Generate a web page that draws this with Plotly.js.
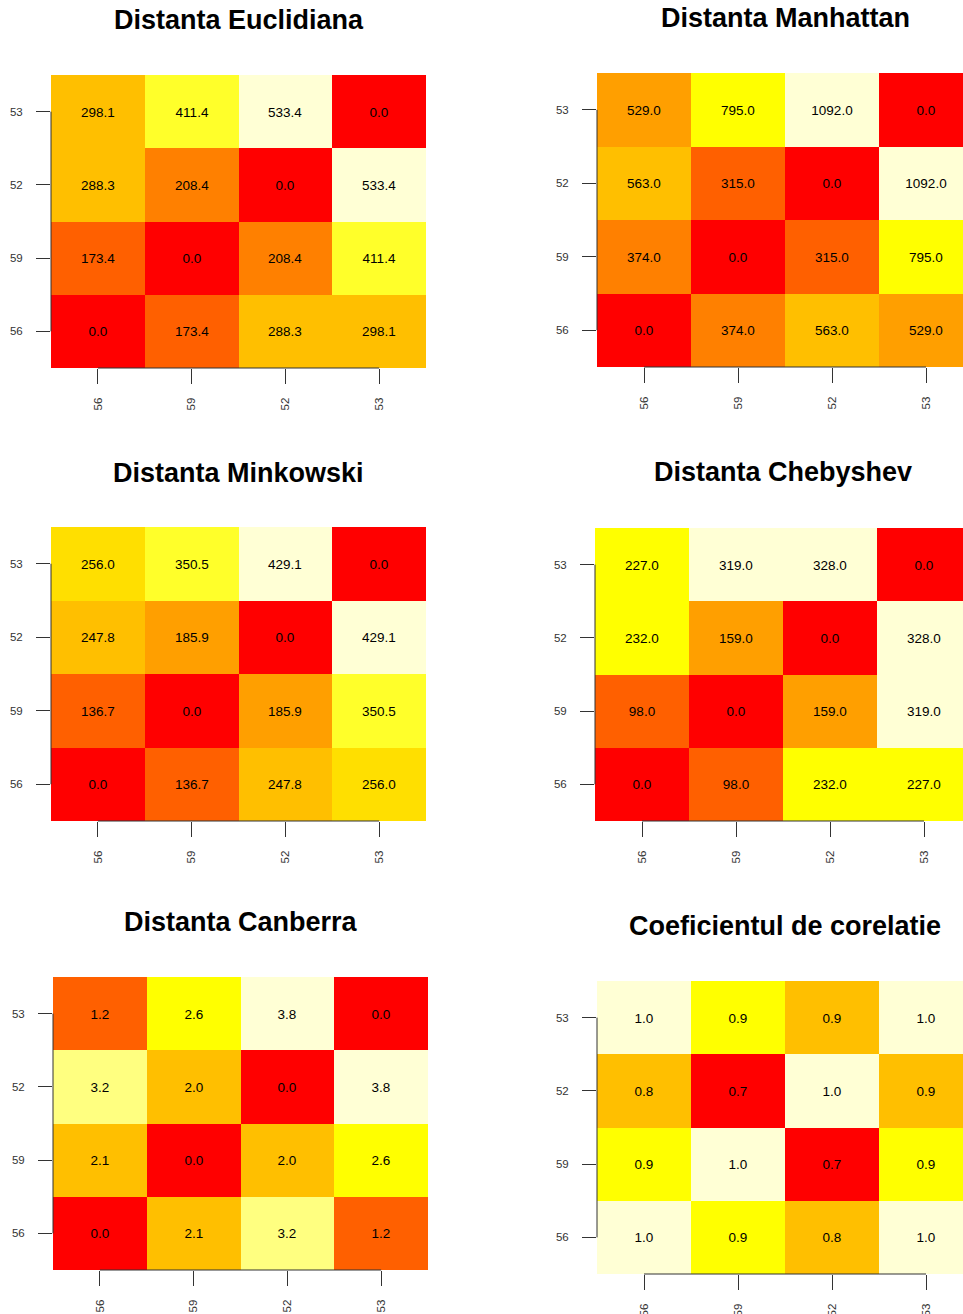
<!DOCTYPE html>
<html>
<head>
<meta charset="utf-8">
<script src="https://cdn.plot.ly/plotly-3.0.1.min.js"></script>
<style>
  html, body { margin: 0; padding: 0; background: #fff; }
  #chart { width: 963px; height: 1314px; }
</style>
</head>
<body>
<div id="chart"></div>
<script>
// Sample labels, in plotting order (bottom-to-top / left-to-right)
const samples = ['56', '59', '52', '53'];

// Distance matrices; row i corresponds to samples[i]
const euclidian = [
  [0.0, 173.4, 288.3, 298.1],
  [173.4, 0.0, 208.4, 411.4],
  [288.3, 208.4, 0.0, 533.4],
  [298.1, 411.4, 533.4, 0.0]
];
const manhattan = [
  [0, 374, 563, 529],
  [374, 0, 315, 795],
  [563, 315, 0, 1092],
  [529, 795, 1092, 0]
];
const minkowski = [
  [0.0, 136.7, 247.8, 256.0],
  [136.7, 0.0, 185.9, 350.5],
  [247.8, 185.9, 0.0, 429.1],
  [256.0, 350.5, 429.1, 0.0]
];
const chebyshev = [
  [0, 98, 232, 227],
  [98, 0, 159, 319],
  [232, 159, 0, 328],
  [227, 319, 328, 0]
];
const canberra = [
  [0.0, 2.1, 3.2, 1.2],
  [2.1, 0.0, 2.0, 2.6],
  [3.2, 2.0, 0.0, 3.8],
  [1.2, 2.6, 3.8, 0.0]
];
const correlation = [
  [1.0, 0.91, 0.842, 0.98],
  [0.91, 1.0, 0.68, 0.91],
  [0.842, 0.68, 1.0, 0.86],
  [0.98, 0.91, 0.86, 1.0]
];

const titles = [
  'Distanta Euclidiana', 'Distanta Manhattan',
  'Distanta Minkowski', 'Distanta Chebyshev',
  'Distanta Canberra', 'Coeficientul de corelatie'
];
const matrices = [euclidian, manhattan, minkowski, chebyshev, canberra, correlation];

// heat.colors(12) palette, equal-width bins from min to max
const heatColors = ['#FF0000', '#FF2000', '#FF4000', '#FF6000', '#FF8000', '#FF9F00',
                    '#FFBF00', '#FFDF00', '#FFFF00', '#FFFF2A', '#FFFF80', '#FFFFD5'];
const stepScale = [];
heatColors.forEach((c, i) => {
  stepScale.push([i / heatColors.length, c]);
  stepScale.push([(i + 1) / heatColors.length, c]);
});

// Panel boxes in pixels: left, top, right, bottom, title centre y
const W = 963, H = 1314;
const boxes = [
  {l: 51,  t: 75,  r: 426, b: 368,  ty: 20},
  {l: 597, t: 73,  r: 973, b: 367,  ty: 18},
  {l: 51,  t: 527, r: 426, b: 821,  ty: 473},
  {l: 595, t: 528, r: 971, b: 821,  ty: 472},
  {l: 53,  t: 977, r: 428, b: 1270, ty: 922},
  {l: 597, t: 981, r: 973, b: 1274, ty: 926}
];

const FONT = 'Liberation Sans, Arial, Helvetica, sans-serif';
const AXIS_COLOR = '#333';

const data = [];
const layout = {
  width: W, height: H,
  margin: {l: 0, r: 0, t: 0, b: 0},
  paper_bgcolor: '#fff', plot_bgcolor: '#fff',
  showlegend: false,
  font: {family: FONT, color: '#000'},
  annotations: [], shapes: []
};

matrices.forEach((z, k) => {
  const n = k + 1;
  const sfx = n === 1 ? '' : String(n);
  const bx = boxes[k];
  const cellW = (bx.r - bx.l) / samples.length;
  const visR = Math.min(bx.r, W);
  const flat = z.flat();
  const zmin = Math.min(...flat), zmax = Math.max(...flat);

  data.push({
    type: 'heatmap',
    x: samples, y: samples, z: z,
    xaxis: 'x' + sfx, yaxis: 'y' + sfx,
    zmin: zmin, zmax: zmax,
    colorscale: stepScale,
    showscale: false,
    texttemplate: '%{z:.1f}',
    textfont: {family: FONT, size: 13.5, color: '#000'},
    hoverinfo: 'skip'
  });

  layout['xaxis' + sfx] = {
    type: 'category',
    domain: [bx.l / W, visR / W],
    range: [-0.5, -0.5 + (visR - bx.l) / cellW],
    anchor: 'y' + sfx,
    showgrid: false, zeroline: false, showline: false,
    ticks: 'outside', ticklen: 15, tickwidth: 1, tickcolor: AXIS_COLOR,
    tickangle: -90, ticklabelstandoff: 9,
    tickfont: {family: FONT, size: 11.5, color: '#333'},
    fixedrange: true
  };
  layout['yaxis' + sfx] = {
    type: 'category',
    domain: [1 - bx.b / H, 1 - bx.t / H],
    range: [-0.5, samples.length - 0.5],
    anchor: 'x' + sfx,
    showgrid: false, zeroline: false, showline: false,
    ticks: 'outside', ticklen: 14, tickwidth: 1, tickcolor: AXIS_COLOR,
    ticklabelstandoff: 11,
    tickfont: {family: FONT, size: 11.5, color: '#333'},
    fixedrange: true
  };

  // axis lines spanning first to last tick
  layout.shapes.push({
    type: 'line', layer: 'above',
    xref: 'x' + sfx, yref: 'y' + sfx + ' domain',
    x0: 0, x1: samples.length - 1, y0: 0, y1: 0,
    line: {color: AXIS_COLOR, width: 1}
  });
  layout.shapes.push({
    type: 'line', layer: 'above',
    xref: 'x' + sfx + ' domain', yref: 'y' + sfx,
    x0: 0, x1: 0, y0: 0, y1: samples.length - 1,
    line: {color: AXIS_COLOR, width: 1}
  });

  layout.annotations.push({
    text: '<b>' + titles[k] + '</b>',
    xref: 'paper', yref: 'paper',
    x: ((bx.l + bx.r) / 2) / W, y: 1 - bx.ty / H,
    xanchor: 'center', yanchor: 'middle',
    showarrow: false,
    font: {family: FONT, size: 27, color: '#000'}
  });
});

Plotly.newPlot('chart', data, layout, {displayModeBar: false, staticPlot: true});
</script>
</body>
</html>
